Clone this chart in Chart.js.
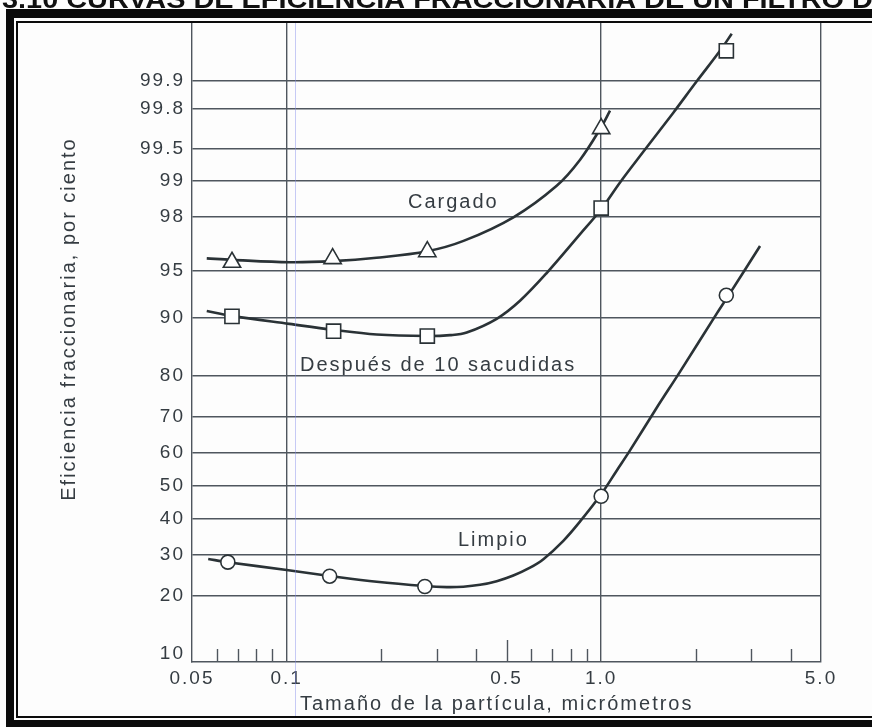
<!DOCTYPE html>
<html>
<head>
<meta charset="utf-8">
<script src="https://cdn.jsdelivr.net/npm/chart.js@4.4.1/dist/chart.umd.min.js"></script>
<style>
  html, body { margin: 0; padding: 0; background: #ffffff; }
  canvas { display: block; }
</style>
</head>
<body>
<canvas id="chart" width="872" height="727"></canvas>
<script>
// Measured points: particle size (micrometres) and fractional efficiency (%)
const cargadoSize = [0.067, 0.14, 0.28, 1.0];
const cargadoEff  = [95.6, 95.85, 96.3, 99.68];
const sacudidasSize = [0.067, 0.141, 0.28, 1.0, 2.5];
const sacudidasEff  = [90.2, 88.1, 87.35, 98.3, 99.955];
const limpioSize = [0.065, 0.137, 0.275, 1.0, 2.5];
const limpioEff  = [28.0, 24.5, 22.1, 46.8, 92.7];

// Faired curves drawn through each set of points
const cargadoCurveSize = [0.0557, 0.0669, 0.102, 0.140, 0.193, 0.280, 0.365, 0.526, 0.722, 0.857, 1.0, 1.067];
const cargadoCurveEff  = [95.87, 95.77, 95.60, 95.68, 95.91, 96.33, 96.92, 97.98, 98.90, 99.36, 99.69, 99.79];
const sacudidasCurveSize = [0.0557, 0.0669, 0.102, 0.1407, 0.1933, 0.2801, 0.3307, 0.3736, 0.4654, 0.552, 0.671, 0.857, 1.0, 1.148, 1.361, 1.696, 2.013, 2.387, 2.601];
const sacudidasCurveEff  = [90.90, 90.27, 89.17, 88.30, 87.59, 87.35, 87.49, 87.90, 89.88, 92.11, 94.78, 97.26, 98.26, 98.97, 99.46, 99.78, 99.899, 99.955, 99.972];
const limpioCurveSize = [0.0563, 0.065, 0.100, 0.137, 0.1933, 0.275, 0.323, 0.3645, 0.412, 0.4654, 0.5255, 0.594, 0.655, 0.758, 0.857, 1.0, 1.12, 1.235, 1.50, 1.78, 2.33, 2.53, 3.2];
const limpioCurveEff  = [28.81, 27.99, 26.01, 24.57, 23.18, 22.21, 21.97, 22.06, 22.48, 23.33, 24.67, 26.60, 28.77, 33.72, 39.28, 47.41, 54.58, 60.64, 72.37, 80.78, 90.56, 92.59, 96.64];

// Axis ticks
const yTickValues = [10, 20, 30, 40, 50, 60, 70, 80, 90, 95, 98, 99, 99.5, 99.8, 99.9];
const xTickValues = [0.05, 0.1, 0.5, 1.0, 5.0];
const xTickLabels = ['0.05', '0.1', '0.5', '1.0', '5.0'];
const xMinorTicks = [0.06, 0.07, 0.08, 0.09, 0.2, 0.3, 0.4, 0.5, 0.6, 0.7, 0.8, 0.9, 2, 3, 4];

const INK = '#2a3236';
const GRID = '#4f565e';
const TEXT = '#353c42';
const FONT = '"Liberation Sans", Arial, sans-serif';

// Inverse of the standard normal distribution (Acklam), argument in percent
function probit(pct) {
  const p = pct / 100;
  const a = [-3.969683028665376e+01, 2.209460984245205e+02, -2.759285104469687e+02, 1.383577518672690e+02, -3.066479806614716e+01, 2.506628277459239e+00];
  const b = [-5.447609879822406e+01, 1.615858368580409e+02, -1.556989798598866e+02, 6.680131188771972e+01, -1.328068155288572e+01];
  const c = [-7.784894002430293e-03, -3.223964580411365e-01, -2.400758277161838e+00, -2.549671669325088e+00, 4.374664141464968e+00, 2.938163982698783e+00];
  const d = [7.784695709041462e-03, 3.224671290700398e-01, 2.445134137142996e+00, 3.754408661907416e+00];
  const pl = 0.02425;
  let q, r;
  if (p < pl) {
    q = Math.sqrt(-2 * Math.log(p));
    return (((((c[0]*q+c[1])*q+c[2])*q+c[3])*q+c[4])*q+c[5]) / ((((d[0]*q+d[1])*q+d[2])*q+d[3])*q+1);
  }
  if (p <= 1 - pl) {
    q = p - 0.5; r = q * q;
    return (((((a[0]*r+a[1])*r+a[2])*r+a[3])*r+a[4])*r+a[5])*q / (((((b[0]*r+b[1])*r+b[2])*r+b[3])*r+b[4])*r+1);
  }
  q = Math.sqrt(-2 * Math.log(1 - p));
  return -(((((c[0]*q+c[1])*q+c[2])*q+c[3])*q+c[4])*q+c[5]) / ((((d[0]*q+d[1])*q+d[2])*q+d[3])*q+1);
}
// Standard normal CDF in percent
function normPct(z) {
  const t = 1 / (1 + 0.3275911 * Math.abs(z) / Math.SQRT2);
  const y = 1 - (((((1.061405429*t - 1.453152027)*t) + 1.421413741)*t - 0.284496736)*t + 0.254829592)*t*Math.exp(-z*z/2);
  return 50 * (1 + (z >= 0 ? y : -y));
}

// Probability (normal) axis
class ProbitScale extends Chart.Scale {
  static id = 'probit';
  static defaults = {};
  determineDataLimits() {
    this.min = this.options.min;
    this.max = this.options.max;
  }
  buildTicks() {
    return yTickValues.map(v => ({ value: v }));
  }
  getLabelForValue(v) { return String(v); }
  configure() {
    super.configure();
    this._zMin = probit(this.min);
    this._zRange = probit(this.max) - this._zMin;
  }
  getPixelForValue(v) {
    return this.getPixelForDecimal((probit(v) - this._zMin) / this._zRange);
  }
  getValueForPixel(px) {
    return normPct(this._zMin + this.getDecimalForPixel(px) * this._zRange);
  }
}
Chart.register(ProbitScale);

const pts = (xs, ys) => xs.map((x, i) => ({ x: x, y: ys[i] }));

const curve = (label, xs, ys) => ({
  label: label, data: pts(xs, ys), showLine: true, order: 2,
  borderColor: INK, borderWidth: 2.6, pointRadius: 0,
  tension: 0.35, fill: false
});
const marks = (label, xs, ys, style, radius) => ({
  label: label, data: pts(xs, ys), showLine: false, order: 1,
  pointStyle: style, pointRadius: radius, pointBackgroundColor: '#ffffff',
  pointBorderColor: INK, pointBorderWidth: 1.6
});

function spaced(ctx, text, x, y, align, spacing) {
  ctx.letterSpacing = spacing + 'px';
  ctx.textAlign = align;
  ctx.fillText(text, x, y);
}

const decor = {
  id: 'decor',
  beforeDraw(chart) {
    const ctx = chart.ctx;
    ctx.save();
    ctx.fillStyle = '#fdfdfd';
    ctx.fillRect(0, 0, chart.width, chart.height);
    ctx.restore();
    ctx.letterSpacing = '2px';
  },
  afterDraw(chart) {
    const ctx = chart.ctx;
    const xs = chart.scales.x;
    const area = chart.chartArea;
    ctx.save();

    // minor ticks rising from the size axis
    ctx.strokeStyle = GRID;
    ctx.lineWidth = 1.4;
    xMinorTicks.forEach(v => {
      const px = Math.round(xs.getPixelForValue(v)) + 0.5;
      const len = v === 0.5 ? 22 : 13;
      ctx.beginPath();
      ctx.moveTo(px, area.bottom);
      ctx.lineTo(px, area.bottom - len);
      ctx.stroke();
    });

    // faint rule beside the 0.1 line
    ctx.strokeStyle = 'rgba(130,140,235,0.45)';
    ctx.lineWidth = 1;
    ctx.beginPath();
    ctx.moveTo(295.5, 22);
    ctx.lineTo(295.5, 716);
    ctx.stroke();

    // curve names and axis titles
    ctx.fillStyle = TEXT;
    ctx.font = '20px ' + FONT;
    ctx.textBaseline = 'alphabetic';
    spaced(ctx, 'Cargado', 408, 208, 'left', 2);
    spaced(ctx, 'Después de 10 sacudidas', 300, 371, 'left', 2);
    spaced(ctx, 'Limpio', 458, 546, 'left', 2);
    spaced(ctx, 'Tamaño de la partícula, micrómetros', 300, 710, 'left', 2);
    ctx.save();
    ctx.translate(75, 319);
    ctx.rotate(-Math.PI / 2);
    spaced(ctx, 'Eficiencia fraccionaria, por ciento', 0, 0, 'center', 2);
    ctx.restore();

    // figure heading running off the top edge
    ctx.fillStyle = '#111111';
    ctx.font = 'bold 25px ' + FONT;
    ctx.letterSpacing = '0px';
    ctx.textAlign = 'left';
    const full = '3.10 CURVAS DE EFICIENCIA FRACCIONARIA DE UN FILTRO DE';
    const lead = '3.10 CURVAS DE EFICIENCIA FRACCIONARIA DE UN FILTRO ';
    const sx = 850 / ctx.measureText(lead).width;
    ctx.save();
    ctx.translate(2, 8);
    ctx.scale(sx, 1);
    ctx.fillText(full, 0, 0);
    ctx.restore();

    // frame: heavy outer band and thin inner rule
    ctx.fillStyle = '#0b0b0b';
    ctx.fillRect(6, 9, chart.width - 6, 9);
    ctx.fillRect(6, 9, 8, chart.height - 9);
    ctx.fillRect(6, 720, chart.width - 6, 7);
    ctx.fillRect(16, 21, chart.width - 16, 2);
    ctx.fillRect(16, 21, 2, 697);
    ctx.fillRect(16, 716, chart.width - 16, 2);
    ctx.restore();
  }
};

new Chart(document.getElementById('chart'), {
  type: 'scatter',
  data: {
    datasets: [
      curve('Cargado', cargadoCurveSize, cargadoCurveEff),
      marks('Cargado (medido)', cargadoSize, cargadoEff, 'triangle', 10),
      curve('Después de 10 sacudidas', sacudidasCurveSize, sacudidasCurveEff),
      marks('Después de 10 sacudidas (medido)', sacudidasSize, sacudidasEff, 'rect', 10),
      curve('Limpio', limpioCurveSize, limpioCurveEff),
      marks('Limpio (medido)', limpioSize, limpioEff, 'circle', 7)
    ]
  },
  options: {
    responsive: false,
    animation: false,
    events: [],
    layout: { padding: { left: 0, top: 22, right: 51, bottom: 0 } },
    plugins: { legend: { display: false }, tooltip: { enabled: false } },
    scales: {
      x: {
        type: 'logarithmic',
        min: 0.05,
        max: 5.0,
        afterBuildTicks: s => {
          s.ticks = xTickValues.concat(xMinorTicks.filter(v => xTickValues.indexOf(v) < 0))
            .sort((a, b) => a - b).map(v => ({ value: v }));
        },
        afterFit: s => { s.height = 65; },
        ticks: {
          autoSkip: false, maxRotation: 0, padding: 5, color: TEXT,
          font: { family: FONT, size: 19 },
          callback: v => {
            const i = xTickValues.findIndex(t => Math.abs(t - v) < 1e-9);
            return i >= 0 ? xTickLabels[i] : '';
          }
        },
        grid: {
          drawTicks: false, lineWidth: 1.4,
          color: c => (c.tick && (Math.abs(c.tick.value - 0.1) < 1e-9 || c.tick.value === 1 || c.tick.value === 5)) ? GRID : 'rgba(0,0,0,0)'
        },
        border: { display: true, color: GRID, width: 1.4 }
      },
      y: {
        type: 'probit',
        position: 'left',
        min: 8.93,
        max: 99.98,
        afterFit: s => { s.width = 192; },
        ticks: {
          autoSkip: false, padding: 7, color: TEXT,
          font: { family: FONT, size: 19 },
          callback: v => String(v)
        },
        grid: {
          drawTicks: false, lineWidth: 1.4,
          color: c => (c.tick && c.tick.value === 10) ? 'rgba(0,0,0,0)' : GRID
        },
        border: { display: true, color: GRID, width: 1.4 }
      }
    }
  },
  plugins: [decor]
});
</script>
</body>
</html>
